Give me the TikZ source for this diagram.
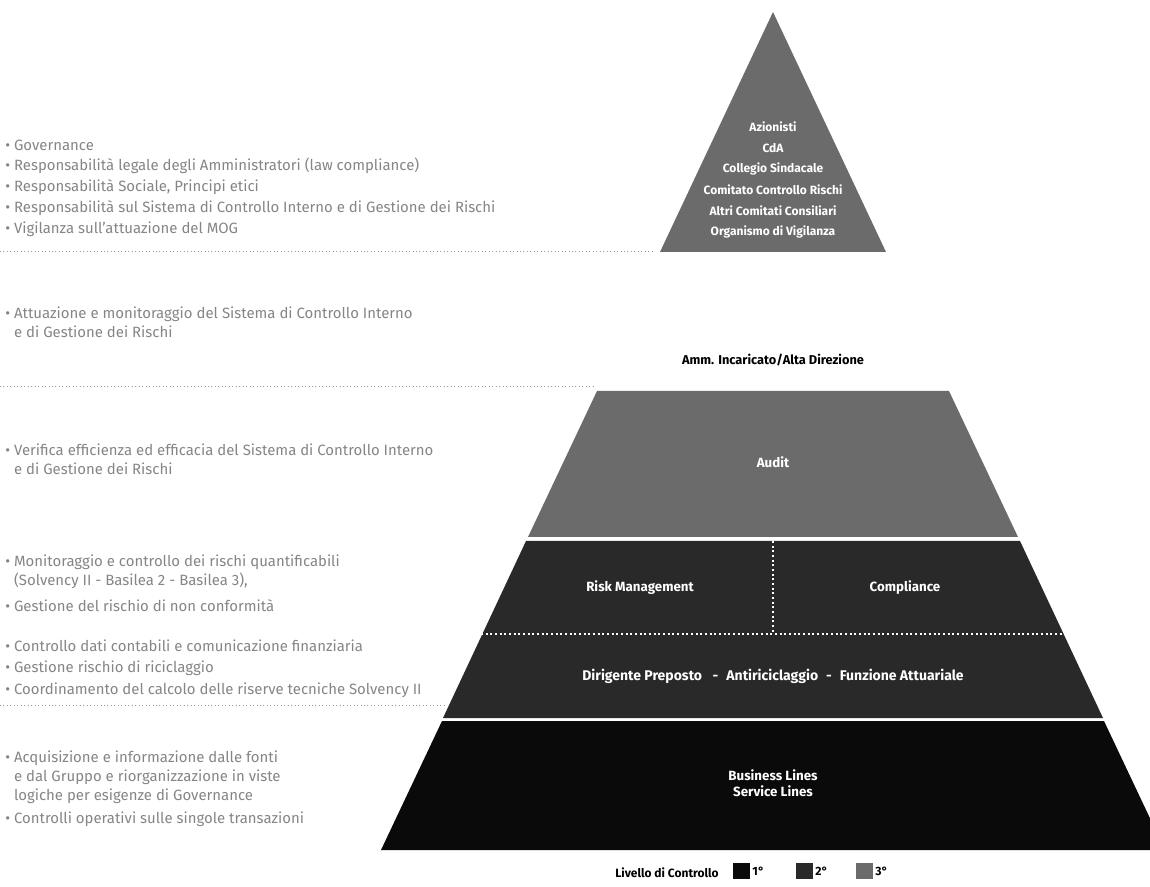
\documentclass[tikz,border=0pt]{standalone}
\usepackage{fontspec}
\setmainfont{Fira Sans}
\begin{document}
\begin{tikzpicture}[x=0.75pt,y=-0.75pt,
  lefttxt/.style={anchor=west,inner sep=0pt,align=left,text=black!48,font=\fontsize{11.2}{14.4}\selectfont},
  lbl/.style={inner sep=0pt,align=center,text=white,font=\bfseries\fontsize{9}{11.5}\selectfont},
  lblbig/.style={lbl,font=\bfseries\fontsize{10}{12}\selectfont},
  legtxt/.style={inner sep=0pt,font=\bfseries\fontsize{9}{11}\selectfont},
  lvlone/.style={fill=black!96},
  lvltwo/.style={fill=black!84},
  lvlthree/.style={fill=black!58},
  sep/.style={draw=black!40,dotted,line width=0.6pt},
  wdots/.style={draw=white,dotted,line width=1.5pt},
  legbox/.style={minimum width=12.5pt,minimum height=12.5pt,inner sep=0pt,anchor=west}]
\useasboundingbox (0,0) rectangle (1150,887);
\clip (0,0) rectangle (1150,887);
% ---------- pyramid ----------
\fill[lvlthree] (773,12) -- (886,252) -- (660,252) -- cycle;
\node[lbl] (azi) at (773,127) {Azionisti};
\node[lbl] (cda) at (773,148) {CdA};
\node[lbl] (col) at (773,169) {Collegio Sindacale};
\node[lbl] (ccr) at (773,190) {Comitato Controllo Rischi};
\node[lbl] (acc) at (773,211) {Altri Comitati Consiliari};
\node[lbl] (odv) at (773,232) {Organismo di Vigilanza};
\node[inner sep=0pt,font=\bfseries\fontsize{9.6}{11}\selectfont] (amm) at (773,360) {Amm. Incaricato/Alta Direzione};
% Audit
\fill[lvlthree] (597,391) -- (949,391) -- (1018,537) -- (528,537) -- cycle;
\node[lblbig] (aud) at (773,462) {Audit};
% 2nd level
\fill[lvltwo] (526,541) -- (1020,541) -- (1103,718) -- (443,718) -- cycle;
\coordinate (dl) at (481,634);
\coordinate (dr) at (1065,634);
\coordinate (vt) at (773,541);
\coordinate (vb) at (773,634);
\draw[wdots] (dl) -- (dr);
\draw[wdots] (vt) -- (vb);
\node[lblbig] (risk) at (640,588) {Risk Management};
\node[lblbig] (comp) at (905,588) {Compliance};
\node[lbl,font=\bfseries\fontsize{10.5}{12}\selectfont] (dir) at (773,676) {Dirigente Preposto\hspace{8pt}-\hspace{6pt}Antiriciclaggio\hspace{6pt}-\hspace{6pt}Funzione Attuariale};
% 1st level
\fill[lvlone] (442,721) -- (1104,721) -- (1165,850) -- (381,850) -- cycle;
\node[lblbig] (bus) at (773,783) {Business Lines\\Service Lines};
% ---------- left texts ----------
\node[lefttxt] (t1) at (5,145) {• Governance};
\node[lefttxt] (t2) at (5,166) {• Responsabilità legale degli Amministratori (law compliance)};
\node[lefttxt] (t3) at (5,187) {• Responsabilità Sociale, Principi etici};
\node[lefttxt] (t4) at (5,208) {• Responsabilità sul Sistema di Controllo Interno e di Gestione dei Rischi};
\node[lefttxt] (t5) at (5,229) {• Vigilanza sull'attuazione del MOG};
\coordinate (s1a) at (0,251);
\coordinate (s1b) at (655,251);
\draw[sep] (s1a) -- (s1b);
\node[lefttxt] (t6) at (5,322) {• Attuazione e monitoraggio del Sistema di Controllo Interno\\\hphantom{• }e di Gestione dei Rischi};
\coordinate (s2a) at (0,386);
\coordinate (s2b) at (595,386);
\draw[sep] (s2a) -- (s2b);
\node[lefttxt] (t7) at (5,459) {• Verifica efficienza ed efficacia del Sistema di Controllo Interno\\\hphantom{• }e di Gestione dei Rischi};
\node[lefttxt] (t8) at (5,572) {• Monitoraggio e controllo dei rischi quantificabili\\\hphantom{• }(Solvency II - Basilea 2 - Basilea 3),};
\node[lefttxt] (t9) at (5,606) {• Gestione del rischio di non conformità};
\node[lefttxt] (t10) at (5,646) {• Controllo dati contabili e comunicazione finanziaria};
\node[lefttxt] (t11) at (5,668) {• Gestione rischio di riciclaggio};
\node[lefttxt] (t12) at (5,690) {• Coordinamento del calcolo delle riserve tecniche Solvency II};
\coordinate (s3a) at (0,705);
\coordinate (s3b) at (445,705);
\draw[sep] (s3a) -- (s3b);
\node[lefttxt] (t13) at (5,777) {• Acquisizione e informazione dalle fonti\\\hphantom{• }e dal Gruppo e riorganizzazione in viste\\\hphantom{• }logiche per esigenze di Governance};
\node[lefttxt] (t14) at (5,819) {• Controlli operativi sulle singole transazioni};
% ---------- legend ----------
\node[legtxt] (leg) at (667,873) {Livello di Controllo};
\node[legbox,lvlone] (b1) at (733,871) {};
\node[legtxt,anchor=west] (l1) at (b1.east) {\,1°};
\node[legbox,lvltwo] (b2) at (796,871) {};
\node[legtxt,anchor=west] (l2) at (b2.east) {\,2°};
\node[legbox,lvlthree] (b3) at (856,871) {};
\node[legtxt,anchor=west] (l3) at (b3.east) {\,3°};
\end{tikzpicture}
\end{document}
